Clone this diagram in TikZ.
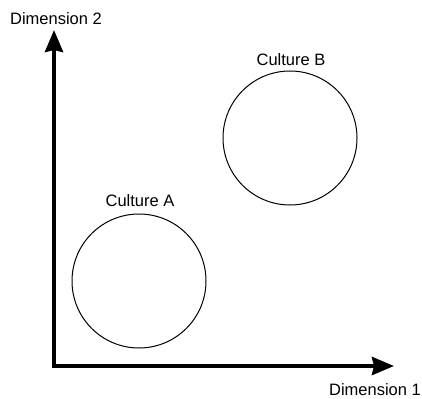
\documentclass[tikz,border=0pt]{standalone}
\usepackage{fontspec}
\setmainfont{Liberation Sans}
\usetikzlibrary{arrows.meta}
\begin{document}
\begin{tikzpicture}[x=1pt,y=-1pt,
  lbl/.style={font=\fontsize{16.5}{19}\selectfont, inner sep=0pt},
  culture/.style={circle, draw, line width=1pt, minimum size=134pt, inner sep=0pt},
  axis/.style={line width=4pt, line join=miter, {Stealth[length=22pt,width=18pt,inset=2pt]}-{Stealth[length=22pt,width=18pt,inset=2pt]}}]
\useasboundingbox (0,0) rectangle (422,398);
\coordinate (top) at (54,30);
\coordinate (O) at (54,366);
\coordinate (right) at (394,366);
\draw[axis] (top) -- (O) -- (right);
\node[culture] (A) at (139,281) {};
\node[culture] (B) at (290,138) {};
\node[lbl] (ta) at (140,201) {Culture A};
\node[lbl] (tb) at (291,60) {Culture B};
\node[lbl] (d2) at (56,19) {Dimension 2};
\node[lbl] (d1) at (375,390) {Dimension 1};
\end{tikzpicture}
\end{document}
